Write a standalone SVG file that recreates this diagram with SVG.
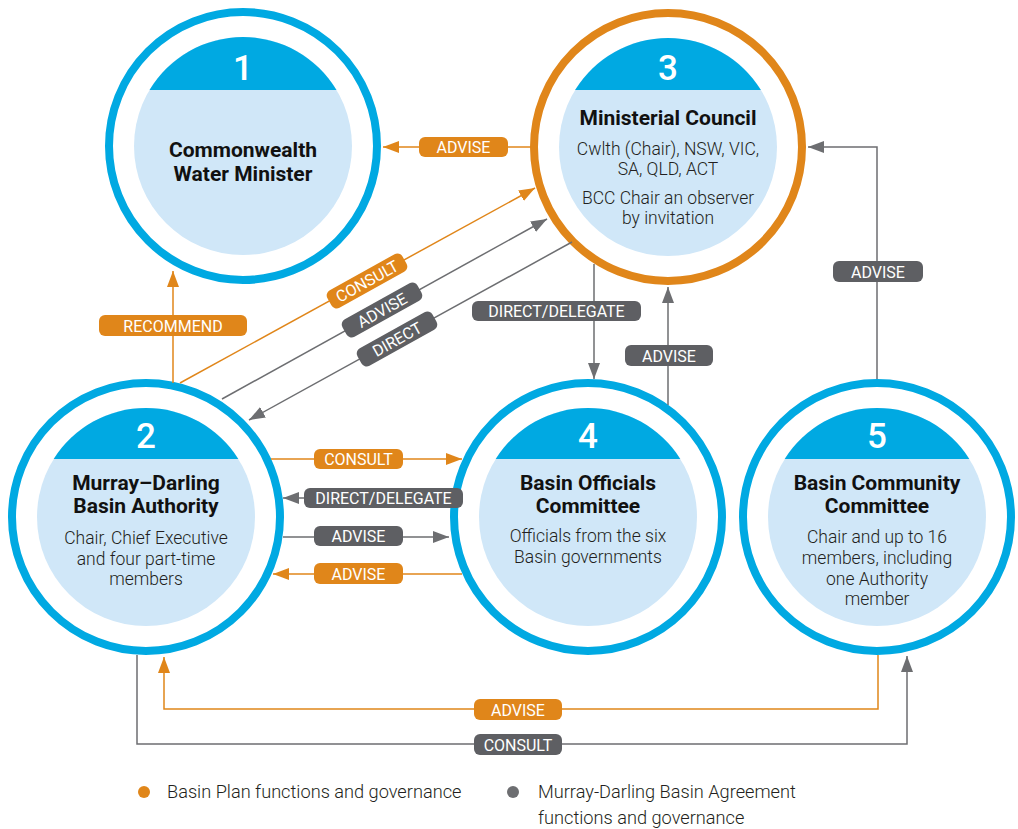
<svg xmlns="http://www.w3.org/2000/svg" width="1018" height="829" viewBox="0 0 1018 829">
<style>
.ring{fill:#fff;stroke:#00a9e2;stroke-width:8}
.ring3{fill:#fff;stroke:#e0861a;stroke-width:8}
.disc{fill:#d0e7f8}
.head{fill:#00a9e2}
.num{font-family:Roboto,"Noto Sans",sans-serif;font-weight:500;font-size:35px;fill:#fff;text-anchor:middle}
.title{font-family:Roboto,"Noto Sans",sans-serif;font-weight:700;font-size:21px;fill:#111;text-anchor:middle}
.body{font-family:Roboto,"Noto Sans",sans-serif;font-weight:300;font-size:17.5px;fill:#231f20;text-anchor:middle}
.lo{fill:none;stroke:#e0861a;stroke-width:1.5}
.lg{fill:none;stroke:#6d6e71;stroke-width:1.5}
.bo{fill:#e0861a}
.bg{fill:#5e5f63}
.lt{font-family:Roboto,"Noto Sans",sans-serif;font-weight:400;font-size:16px;fill:#fff;text-anchor:middle}
.leg{font-family:Roboto,"Noto Sans",sans-serif;font-weight:300;font-size:18.2px;fill:#231f20}
</style>
<defs>
<marker id="ao" viewBox="0 0 16 12" refX="16" refY="6" markerWidth="16" markerHeight="12" markerUnits="userSpaceOnUse" orient="auto"><path d="M0,0 L16,6 L0,12 Z" fill="#e0861a"/></marker>
<marker id="ag" viewBox="0 0 16 12" refX="16" refY="6" markerWidth="16" markerHeight="12" markerUnits="userSpaceOnUse" orient="auto"><path d="M0,0 L16,6 L0,12 Z" fill="#6d6e71"/></marker>
</defs>

<g id="node1">
<circle class="ring" cx="243" cy="146" r="134"/>
<circle class="disc" cx="243" cy="146" r="109"/>
<path class="head" d="M149.5,90 A109,109 0 0 1 336.5,90 Z"/>
<text class="num" x="243" y="80">1</text>
<text class="title" x="243" y="157">Commonwealth</text>
<text class="title" x="243" y="181">Water Minister</text>
</g>

<g id="node3">
<circle class="ring3" cx="668" cy="147" r="134"/>
<circle class="disc" cx="668" cy="147" r="109"/>
<path class="head" d="M575.1,90 A109,109 0 0 1 760.9,90 Z"/>
<text class="num" x="668" y="80">3</text>
<text class="title" x="668" y="125">Ministerial Council</text>
<text class="body" x="668" y="155">Cwlth (Chair), NSW, VIC,</text>
<text class="body" x="668" y="175">SA, QLD, ACT</text>
<text class="body" x="668" y="204">BCC Chair an observer</text>
<text class="body" x="668" y="224">by invitation</text>
</g>

<g id="node2">
<circle class="ring" cx="146" cy="517" r="134"/>
<circle class="disc" cx="146" cy="517" r="109"/>
<path class="head" d="M53.7,459 A109,109 0 0 1 238.3,459 Z"/>
<text class="num" x="146" y="448">2</text>
<text class="title" x="146" y="490">Murray–Darling</text>
<text class="title" x="146" y="513">Basin Authority</text>
<text class="body" x="146" y="544">Chair, Chief Executive</text>
<text class="body" x="146" y="565">and four part-time</text>
<text class="body" x="146" y="585">members</text>
</g>

<g id="node4">
<circle class="ring" cx="588" cy="517" r="134"/>
<circle class="disc" cx="588" cy="517" r="109"/>
<path class="head" d="M495.7,459 A109,109 0 0 1 680.3,459 Z"/>
<text class="num" x="588" y="448">4</text>
<text class="title" x="588" y="490">Basin Officials</text>
<text class="title" x="588" y="513">Committee</text>
<text class="body" x="588" y="542">Officials from the six</text>
<text class="body" x="588" y="563">Basin governments</text>
</g>

<g id="node5">
<circle class="ring" cx="877" cy="517" r="134"/>
<circle class="disc" cx="877" cy="517" r="109"/>
<path class="head" d="M784.7,459 A109,109 0 0 1 969.3,459 Z"/>
<text class="num" x="877" y="448">5</text>
<text class="title" x="877" y="490">Basin Community</text>
<text class="title" x="877" y="513">Committee</text>
<text class="body" x="877" y="543">Chair and up to 16</text>
<text class="body" x="877" y="564">members, including</text>
<text class="body" x="877" y="585">one Authority</text>
<text class="body" x="877" y="605">member</text>
</g>

<g id="connectors">
<!-- 3 -> 1 ADVISE -->
<line class="lo" x1="531" y1="147" x2="383" y2="147" marker-end="url(#ao)"/>
<rect class="bo" x="419" y="137" width="89" height="20" rx="6"/>
<text class="lt" x="463.5" y="153">ADVISE</text>

<!-- 2 -> 1 RECOMMEND -->
<line class="lo" x1="173" y1="383" x2="173" y2="271" marker-end="url(#ao)"/>
<rect class="bo" x="99" y="315" width="148" height="21" rx="6"/>
<text class="lt" x="173" y="331.5">RECOMMEND</text>

<!-- 2 -> 3 CONSULT -->
<line class="lo" x1="180" y1="383" x2="535" y2="188" marker-end="url(#ao)"/>
<g transform="translate(367,281) rotate(-29)">
<rect class="bo" x="-43" y="-10" width="86" height="20" rx="6"/>
<text class="lt" x="0" y="6">CONSULT</text>
</g>

<!-- 2 -> 3 ADVISE -->
<line class="lg" x1="222" y1="399" x2="547" y2="219" marker-end="url(#ag)"/>
<g transform="translate(382,310) rotate(-29)">
<rect class="bg" x="-43" y="-10" width="86" height="20" rx="6"/>
<text class="lt" x="0" y="6">ADVISE</text>
</g>

<!-- 3 -> 2 DIRECT -->
<line class="lg" x1="572" y1="242" x2="249" y2="420" marker-end="url(#ag)"/>
<g transform="translate(397,339) rotate(-29)">
<rect class="bg" x="-43" y="-10" width="86" height="20" rx="6"/>
<text class="lt" x="0" y="6">DIRECT</text>
</g>

<!-- 3 -> 4 DIRECT/DELEGATE -->
<line class="lg" x1="594" y1="264" x2="594" y2="379" marker-end="url(#ag)"/>
<rect class="bg" x="472" y="301" width="169" height="20" rx="6"/>
<text class="lt" x="556.5" y="317">DIRECT/DELEGATE</text>

<!-- 4 -> 3 ADVISE -->
<line class="lg" x1="668" y1="405" x2="668" y2="287" marker-end="url(#ag)"/>
<rect class="bg" x="625" y="345" width="88" height="21" rx="6"/>
<text class="lt" x="669" y="361.5">ADVISE</text>

<!-- 5 -> 3 ADVISE -->
<polyline class="lg" points="877,379 877,147 808,147" marker-end="url(#ag)"/>
<rect class="bg" x="833" y="261" width="90" height="21" rx="6"/>
<text class="lt" x="878" y="277.5">ADVISE</text>

<!-- 2 -> 4 CONSULT -->
<line class="lo" x1="271" y1="459" x2="462" y2="459" marker-end="url(#ao)"/>
<rect class="bo" x="314" y="449" width="89" height="20" rx="6"/>
<text class="lt" x="358.5" y="465">CONSULT</text>

<!-- 4 -> 2 DIRECT/DELEGATE -->
<line class="lg" x1="455" y1="498" x2="283" y2="498" marker-end="url(#ag)"/>
<rect class="bg" x="304" y="488" width="159" height="20" rx="6"/>
<text class="lt" x="383.5" y="504">DIRECT/DELEGATE</text>

<!-- 2 -> 4 ADVISE -->
<line class="lg" x1="283" y1="537" x2="449" y2="537" marker-end="url(#ag)"/>
<rect class="bg" x="314" y="526" width="89" height="20" rx="6"/>
<text class="lt" x="358.5" y="542">ADVISE</text>

<!-- 4 -> 2 ADVISE -->
<line class="lo" x1="462" y1="574" x2="273" y2="574" marker-end="url(#ao)"/>
<rect class="bo" x="314" y="563" width="89" height="21" rx="6"/>
<text class="lt" x="358.5" y="579.5">ADVISE</text>

<!-- 5 -> 2 ADVISE (bottom) -->
<polyline class="lo" points="878,655 878,709 164,709 164,657" marker-end="url(#ao)"/>
<rect class="bo" x="474" y="699" width="88" height="21" rx="6"/>
<text class="lt" x="518" y="715.5">ADVISE</text>

<!-- 2 -> 5 CONSULT (bottom) -->
<polyline class="lg" points="137,655 137,744 907,744 907,656" marker-end="url(#ag)"/>
<rect class="bg" x="474" y="734" width="88" height="21" rx="6"/>
<text class="lt" x="518" y="750.5">CONSULT</text>
</g>

<g id="legend">
<circle cx="144" cy="792" r="6" fill="#e0861a"/>
<text class="leg" x="167" y="798">Basin Plan functions and governance</text>
<circle cx="513" cy="792" r="6" fill="#6d6e71"/>
<text class="leg" x="538" y="798">Murray-Darling Basin Agreement</text>
<text class="leg" x="538" y="824">functions and governance</text>
</g>
</svg>
